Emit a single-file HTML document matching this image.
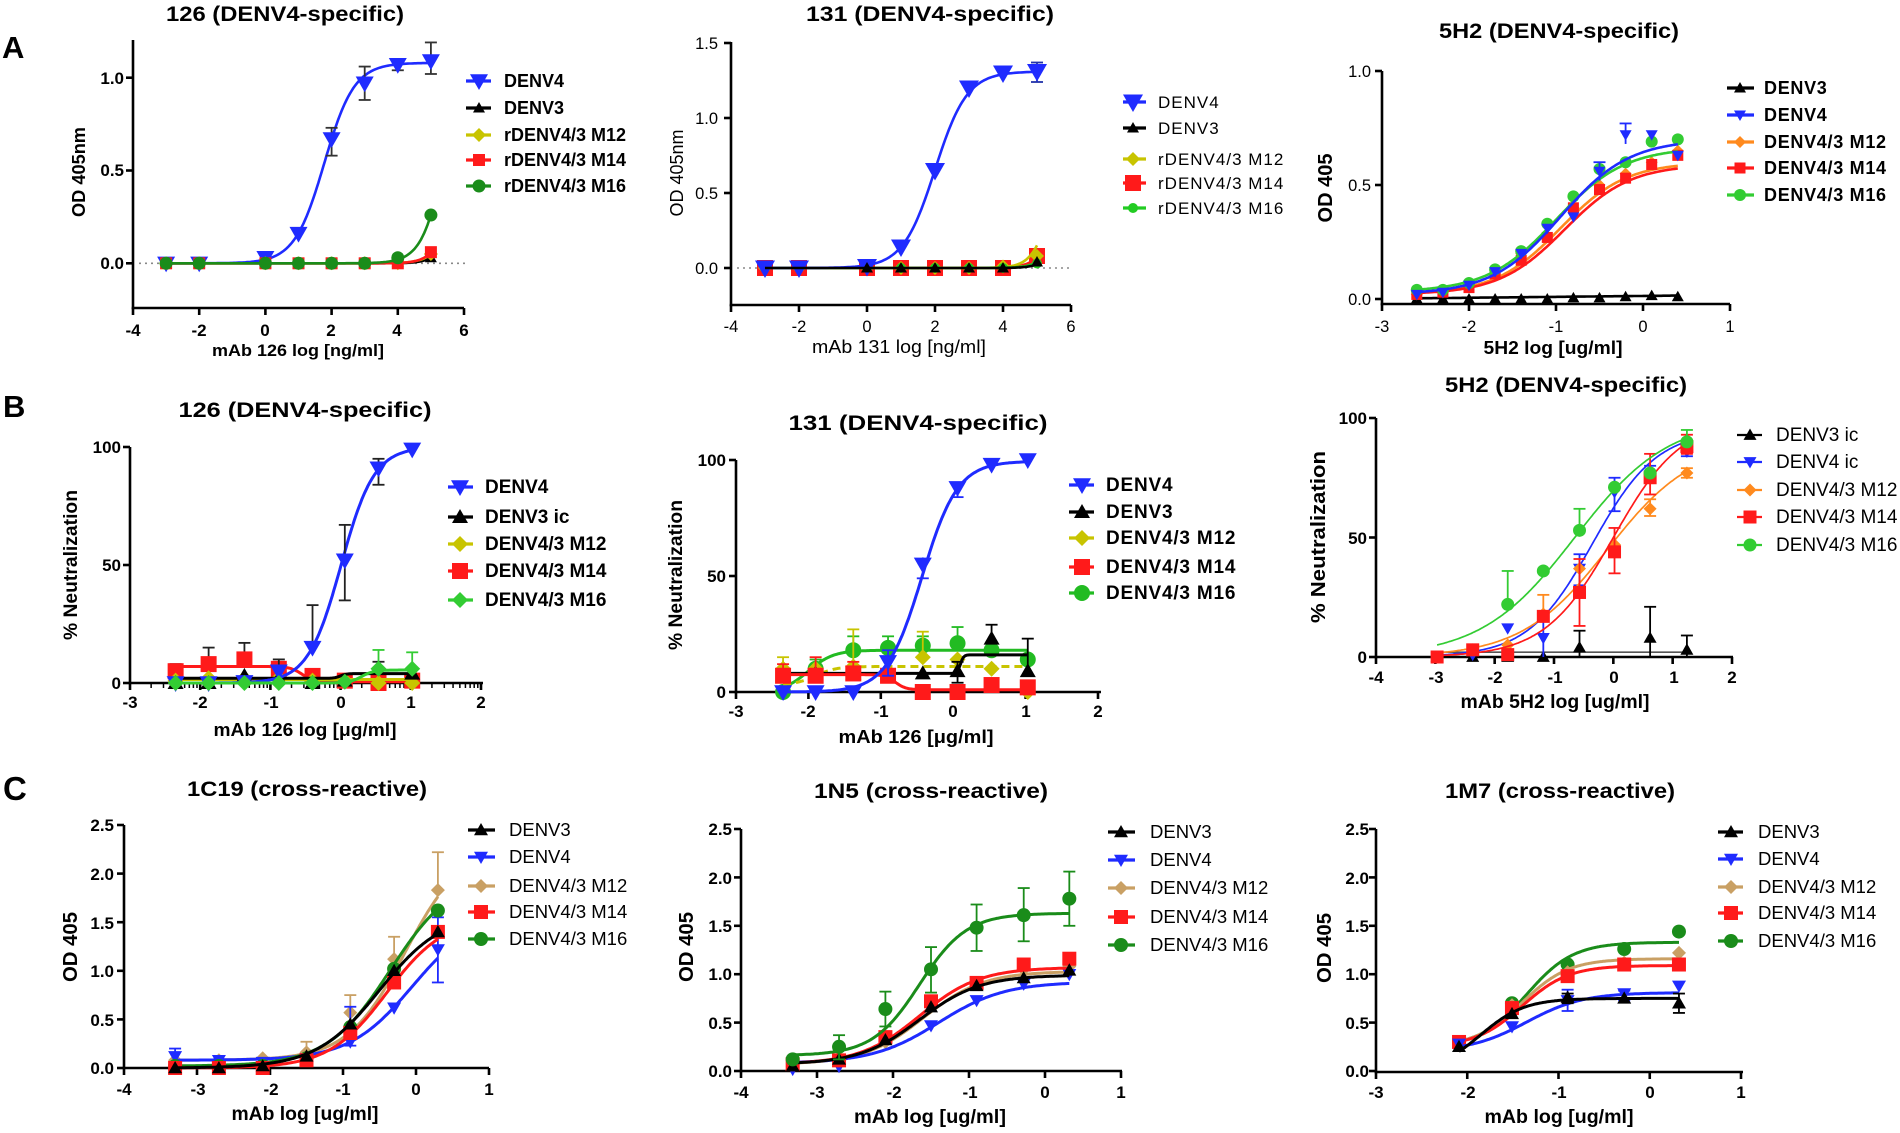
<!DOCTYPE html>
<html><head><meta charset="utf-8">
<style>
html,body{margin:0;padding:0;background:#fff;}
svg{display:block;}
text{font-family:"Liberation Sans",Arial,sans-serif;fill:#000;}
.b{font-weight:bold;}
.t{font-weight:bold;font-size:21px;text-anchor:middle;}
.tb{font-weight:bold;font-size:17px;}
.tr{font-size:16.5px;}
.m{text-anchor:middle;}
.e{text-anchor:end;}
</style></head><body>
<svg id="s" xmlns="http://www.w3.org/2000/svg" width="1900" height="1133" viewBox="0 0 1900 1133">
<rect x="0" y="0" width="1900" height="1133" fill="#fff"/>
<g id="g"></g>

<!-- panel letters -->
<text x="2" y="58" font-size="31" class="b">A</text>
<text x="3" y="417" font-size="31" class="b">B</text>
<text x="3" y="800" font-size="33" class="b">C</text>

<!-- titles -->
<text class="t" x="285" y="21" textLength="238" lengthAdjust="spacingAndGlyphs">126 (DENV4-specific)</text>
<text class="t" x="930" y="21" textLength="248" lengthAdjust="spacingAndGlyphs">131 (DENV4-specific)</text>
<text class="t" x="1559" y="38" textLength="240" lengthAdjust="spacingAndGlyphs">5H2 (DENV4-specific)</text>
<text class="t" x="305" y="417" textLength="253" lengthAdjust="spacingAndGlyphs">126 (DENV4-specific)</text>
<text class="t" x="918" y="430" textLength="259" lengthAdjust="spacingAndGlyphs">131 (DENV4-specific)</text>
<text class="t" x="1566" y="392" textLength="242" lengthAdjust="spacingAndGlyphs">5H2 (DENV4-specific)</text>
<text class="t" x="307" y="796" textLength="240" lengthAdjust="spacingAndGlyphs">1C19 (cross-reactive)</text>
<text class="t" x="931" y="798" textLength="234" lengthAdjust="spacingAndGlyphs">1N5 (cross-reactive)</text>
<text class="t" x="1560" y="798" textLength="230" lengthAdjust="spacingAndGlyphs">1M7 (cross-reactive)</text>

<!-- A1 ticks -->
<g class="tb m">
<text x="133" y="336">-4</text><text x="199" y="336">-2</text><text x="265" y="336">0</text><text x="331" y="336">2</text><text x="397" y="336">4</text><text x="464" y="336">6</text>
</g>
<g class="tb e">
<text x="124" y="84">1.0</text><text x="124" y="176">0.5</text><text x="124" y="269">0.0</text>
</g>
<text class="b m" font-size="18" transform="translate(85,172) rotate(-90)" textLength="90" lengthAdjust="spacingAndGlyphs">OD 405nm</text>
<text class="b m" font-size="17" x="298" y="356" textLength="172" lengthAdjust="spacingAndGlyphs">mAb 126 log [ng/ml]</text>
<g class="b" font-size="18">
<text x="504" y="87">DENV4</text><text x="504" y="114">DENV3</text><text x="504" y="141">rDENV4/3 M12</text><text x="504" y="166">rDENV4/3 M14</text><text x="504" y="192">rDENV4/3 M16</text>
</g>

<!-- A2 ticks -->
<g class="tr m">
<text x="731" y="332">-4</text><text x="799" y="332">-2</text><text x="867" y="332">0</text><text x="935" y="332">2</text><text x="1003" y="332">4</text><text x="1071" y="332">6</text>
</g>
<g class="tr e">
<text x="718" y="49">1.5</text><text x="718" y="124">1.0</text><text x="718" y="199">0.5</text><text x="718" y="274">0.0</text>
</g>
<text class="m" font-size="18" transform="translate(683,173) rotate(-90)" textLength="87" lengthAdjust="spacingAndGlyphs">OD 405nm</text>
<text class="m" font-size="18" x="899" y="353" textLength="174" lengthAdjust="spacingAndGlyphs">mAb 131 log [ng/ml]</text>
<g font-size="17" letter-spacing="1">
<text x="1158" y="108">DENV4</text><text x="1158" y="134">DENV3</text><text x="1158" y="165">rDENV4/3 M12</text><text x="1158" y="189">rDENV4/3 M14</text><text x="1158" y="214">rDENV4/3 M16</text>
</g>

<!-- A3 ticks -->
<g class="tr m">
<text x="1382" y="332">-3</text><text x="1469" y="332">-2</text><text x="1556" y="332">-1</text><text x="1643" y="332">0</text><text x="1730" y="332">1</text>
</g>
<g class="tr e">
<text x="1371" y="77">1.0</text><text x="1371" y="191">0.5</text><text x="1371" y="305">0.0</text>
</g>
<text class="b m" font-size="20" transform="translate(1332,188) rotate(-90)" textLength="69" lengthAdjust="spacingAndGlyphs">OD 405</text>
<text class="b m" font-size="18" x="1553" y="354" textLength="139" lengthAdjust="spacingAndGlyphs">5H2 log [ug/ml]</text>
<g class="b" font-size="18" letter-spacing="0.7">
<text x="1764" y="94">DENV3</text><text x="1764" y="121">DENV4</text><text x="1764" y="148">DENV4/3 M12</text><text x="1764" y="174">DENV4/3 M14</text><text x="1764" y="201">DENV4/3 M16</text>
</g>

<!-- B1 ticks -->
<g class="tb m">
<text x="130" y="708">-3</text><text x="200" y="708">-2</text><text x="271" y="708">-1</text><text x="341" y="708">0</text><text x="411" y="708">1</text><text x="481" y="708">2</text>
</g>
<g class="tb e">
<text x="121" y="453">100</text><text x="121" y="571">50</text><text x="121" y="689">0</text>
</g>
<text class="b m" font-size="19" transform="translate(77,565) rotate(-90)" textLength="150" lengthAdjust="spacingAndGlyphs">% Neutralization</text>
<text class="b m" font-size="18" x="305" y="736" textLength="183" lengthAdjust="spacingAndGlyphs">mAb 126 log [μg/ml]</text>
<g class="b" font-size="19">
<text x="485" y="493">DENV4</text><text x="485" y="523">DENV3 ic</text><text x="485" y="550">DENV4/3 M12</text><text x="485" y="577">DENV4/3 M14</text><text x="485" y="606">DENV4/3 M16</text>
</g>

<!-- B2 ticks -->
<g class="tb m">
<text x="736" y="717">-3</text><text x="808" y="717">-2</text><text x="881" y="717">-1</text><text x="953" y="717">0</text><text x="1026" y="717">1</text><text x="1098" y="717">2</text>
</g>
<g class="tb e">
<text x="726" y="466">100</text><text x="726" y="582">50</text><text x="726" y="698">0</text>
</g>
<text class="b m" font-size="19" transform="translate(682,575) rotate(-90)" textLength="150" lengthAdjust="spacingAndGlyphs">% Neutralization</text>
<text class="b m" font-size="18" x="916" y="743" textLength="155" lengthAdjust="spacingAndGlyphs">mAb 126 [μg/ml]</text>
<g class="b" font-size="19" letter-spacing="0.8">
<text x="1106" y="491">DENV4</text><text x="1106" y="518">DENV3</text><text x="1106" y="544">DENV4/3 M12</text><text x="1106" y="573">DENV4/3 M14</text><text x="1106" y="599">DENV4/3 M16</text>
</g>

<!-- B3 ticks -->
<g class="tb m" font-size="17.5">
<text x="1376" y="683">-4</text><text x="1436" y="683">-3</text><text x="1495" y="683">-2</text><text x="1555" y="683">-1</text><text x="1614" y="683">0</text><text x="1674" y="683">1</text><text x="1732" y="683">2</text>
</g>
<g class="tb e" font-size="17.5">
<text x="1367" y="424">100</text><text x="1367" y="544">50</text><text x="1367" y="663">0</text>
</g>
<text class="b m" font-size="20" transform="translate(1325,537) rotate(-90)" textLength="172" lengthAdjust="spacingAndGlyphs">% Neutralization</text>
<text class="b m" font-size="19" x="1555" y="708" textLength="189" lengthAdjust="spacingAndGlyphs">mAb 5H2 log [ug/ml]</text>
<g font-size="19">
<text x="1776" y="441">DENV3 ic</text><text x="1776" y="468">DENV4 ic</text><text x="1776" y="496">DENV4/3 M12</text><text x="1776" y="523">DENV4/3 M14</text><text x="1776" y="551">DENV4/3 M16</text>
</g>

<!-- C1 ticks -->
<g class="tb m">
<text x="124" y="1095">-4</text><text x="198" y="1095">-3</text><text x="271" y="1095">-2</text><text x="343" y="1095">-1</text><text x="416" y="1095">0</text><text x="489" y="1095">1</text>
</g>
<g class="tb e">
<text x="114" y="831">2.5</text><text x="114" y="880">2.0</text><text x="114" y="929">1.5</text><text x="114" y="977">1.0</text><text x="114" y="1026">0.5</text><text x="114" y="1074">0.0</text>
</g>
<text class="b m" font-size="20" transform="translate(77,947) rotate(-90)" textLength="70" lengthAdjust="spacingAndGlyphs">OD 405</text>
<text class="b m" font-size="19" x="305" y="1120" textLength="147" lengthAdjust="spacingAndGlyphs">mAb log [ug/ml]</text>
<g font-size="18.5">
<text x="509" y="836">DENV3</text><text x="509" y="863">DENV4</text><text x="509" y="892">DENV4/3 M12</text><text x="509" y="918">DENV4/3 M14</text><text x="509" y="945">DENV4/3 M16</text>
</g>

<!-- C2 ticks -->
<g class="tb m">
<text x="741" y="1098">-4</text><text x="817" y="1098">-3</text><text x="894" y="1098">-2</text><text x="970" y="1098">-1</text><text x="1045" y="1098">0</text><text x="1121" y="1098">1</text>
</g>
<g class="tb e">
<text x="732" y="835">2.5</text><text x="732" y="884">2.0</text><text x="732" y="932">1.5</text><text x="732" y="980">1.0</text><text x="732" y="1029">0.5</text><text x="732" y="1077">0.0</text>
</g>
<text class="b m" font-size="20" transform="translate(693,947) rotate(-90)" textLength="70" lengthAdjust="spacingAndGlyphs">OD 405</text>
<text class="b m" font-size="19" x="930" y="1123" textLength="152" lengthAdjust="spacingAndGlyphs">mAb log [ug/ml]</text>
<g font-size="18.5">
<text x="1150" y="838">DENV3</text><text x="1150" y="866">DENV4</text><text x="1150" y="894">DENV4/3 M12</text><text x="1150" y="923">DENV4/3 M14</text><text x="1150" y="951">DENV4/3 M16</text>
</g>

<!-- C3 ticks -->
<g class="tb m">
<text x="1376" y="1098">-3</text><text x="1468" y="1098">-2</text><text x="1559" y="1098">-1</text><text x="1650" y="1098">0</text><text x="1741" y="1098">1</text>
</g>
<g class="tb e">
<text x="1369" y="835">2.5</text><text x="1369" y="884">2.0</text><text x="1369" y="932">1.5</text><text x="1369" y="980">1.0</text><text x="1369" y="1029">0.5</text><text x="1369" y="1077">0.0</text>
</g>
<text class="b m" font-size="20" transform="translate(1331,948) rotate(-90)" textLength="70" lengthAdjust="spacingAndGlyphs">OD 405</text>
<text class="b m" font-size="19" x="1559" y="1123" textLength="149" lengthAdjust="spacingAndGlyphs">mAb log [ug/ml]</text>
<g font-size="18.5">
<text x="1758" y="838">DENV3</text><text x="1758" y="865">DENV4</text><text x="1758" y="893">DENV4/3 M12</text><text x="1758" y="919">DENV4/3 M14</text><text x="1758" y="947">DENV4/3 M16</text>
</g>
</svg>
<script>
const G=document.getElementById('g'),NS='http://www.w3.org/2000/svg';
function el(t,a){const e=document.createElementNS(NS,t);for(const k in a)e.setAttribute(k,a[k]);G.appendChild(e);return e;}
function L(b,t,c,h){return x=>b+(t-b)/(1+Math.pow(10,(c-x)*h));}
function mkr(type,x,y,s,col){
  let p=null;
  if(type==='v')p=[[x-s,y-s*0.75],[x+s,y-s*0.75],[x,y+s]];
  else if(type==='^')p=[[x-s,y+s*0.75],[x+s,y+s*0.75],[x,y-s]];
  else if(type==='d')p=[[x,y-s],[x+s,y],[x,y+s],[x-s,y]];
  if(p)return el('polygon',{points:p.map(q=>q[0].toFixed(1)+','+q[1].toFixed(1)).join(' '),fill:col});
  if(type==='s')return el('rect',{x:x-s,y:y-s,width:2*s,height:2*s,fill:col});
  return el('circle',{cx:x,cy:y,r:s,fill:col});
}
function panel(P){
  const X=v=>P.px[0]+(v-P.xv[0])*(P.px[1]-P.px[0])/(P.xv[1]-P.xv[0]);
  const Y=v=>P.py[0]+(v-P.yv[0])*(P.py[1]-P.py[0])/(P.yv[1]-P.yv[0]);
  const aw=P.aw||2.6;
  el('line',{x1:P.ax,y1:P.top,x2:P.ax,y2:P.axY+aw/2,stroke:'#000','stroke-width':aw});
  el('line',{x1:P.ax-aw/2,y1:P.axY,x2:P.right,y2:P.axY,stroke:'#000','stroke-width':aw});
  P.xt.forEach(v=>el('line',{x1:X(v),y1:P.axY,x2:X(v),y2:P.axY+7,stroke:'#000','stroke-width':aw}));
  P.yt.forEach(v=>el('line',{x1:P.ax-7,y1:Y(v),x2:P.ax,y2:Y(v),stroke:'#000','stroke-width':aw}));
  if(P.minor){for(let d=P.xt[0];d<P.xt[P.xt.length-1];d++)for(let k=2;k<10;k++){const xx=X(d+Math.log10(k));el('line',{x1:xx,y1:P.axY,x2:xx,y2:P.axY+5,stroke:'#000','stroke-width':1.5});}}
  if(P.zero)el('line',{x1:P.zero[0],y1:Y(0),x2:P.zero[1],y2:Y(0),stroke:'#888','stroke-width':1.6,'stroke-dasharray':'2,4'});
  P.series.forEach(S=>{
    if(S.f){const pts=[];const a=S.cr?S.cr[0]:P.xs[0],b=S.cr?S.cr[1]:P.xs[P.xs.length-1];
      for(let i=0;i<=160;i++){const x=a+(b-a)*i/160;pts.push(X(x).toFixed(1)+','+Y(S.f(x)).toFixed(1));}
      const at={points:pts.join(' '),fill:'none',stroke:S.lc||S.c,'stroke-width':S.lw||P.lw||2.5};
      if(S.dash)at['stroke-dasharray']=S.dash;
      el('polyline',at);}
    (S.e||[]).forEach(e=>{const x=X(e[0]);const ec=S.ec||P.ec||S.c;const w=P.ew||1.8;const cw=P.cw||6;
      el('line',{x1:x,y1:Y(e[1]),x2:x,y2:Y(e[2]),stroke:ec,'stroke-width':w});
      if(e[3]!=='l')el('line',{x1:x-cw,y1:Y(e[2]),x2:x+cw,y2:Y(e[2]),stroke:ec,'stroke-width':w});
      if(e[3]!=='h')el('line',{x1:x-cw,y1:Y(e[1]),x2:x+cw,y2:Y(e[1]),stroke:ec,'stroke-width':w});
    });
    S.p.forEach((y,i)=>{if(y==null)return;mkr(S.m,X(P.xs[i]),Y(y),S.s||P.ms||7,S.c);});
    if(S.lg){const y=S.lg;el('line',{x1:P.lg[0],y1:y,x2:P.lg[2],y2:y,stroke:S.c,'stroke-width':P.llw||3.2});mkr(S.m,P.lg[1],y,S.ls||S.s||P.ms||7,S.c);}
  });
}
const BL='#1f2bff',RD='#ff1a1a',YL='#c8c400',DG='#1a8c1a',LG='#33cc33',OR='#ff8a1e',TN='#c9a064';

/* A1 */
panel({px:[133,464],xv:[-4,6],py:[263.3,77.7],yv:[0,1],ax:133,top:40,axY:308,right:464,xt:[-4,-2,0,2,4,6],yt:[0,0.5,1],zero:[139,466],
xs:[-3,-2,0,1,2,3,4,5],lg:[466,479,491],ec:'#333',lw:2.6,
series:[
 {c:BL,m:'v',s:9,f:L(0,1.08,1.78,0.96),cr:[-3,5],p:[0,0,0.03,0.16,0.67,0.97,1.07,1.09],e:[[2,0.58,0.73],[3,0.88,1.06],[4,1.04,1.10],[5,1.02,1.19]],lg:81},
 {c:'#000',m:'^',s:6,f:L(0,1,6,1.5),cr:[-3,5],p:[0,0,0,0,0,0,0.005,0.03],lg:108},
 {c:YL,m:'d',s:7,f:L(0,1,6,1.3),cr:[-3,5],p:[0,0,0,0,0,0,0,0.05],lg:135},
 {c:RD,m:'s',s:6,f:L(0,1,5.8,1.5),cr:[-3,5],p:[0,0,0,0,0,0,0,0.06],lg:160},
 {c:DG,m:'o',s:6.5,f:L(0,1.3,5.5,1.2),cr:[-3,5],p:[0,0,0,0,0,0,0.03,0.26],lg:186}
]});

/* A2 */
panel({px:[731,1071],xv:[-4,6],py:[268,43],yv:[0,1.5],ax:731,top:42,axY:305,right:1071,xt:[-4,-2,0,2,4,6],yt:[0,0.5,1,1.5],zero:[737,1071],
xs:[-3,-2,0,1,2,3,4,5],lg:[1123,1133,1146],lw:2.6,
series:[
 {c:RD,m:'s',s:8,f:L(0,1,5.8,1.4),cr:[-3,5],p:[0,0,0,0,0,0,0,0.08],lg:183},
 {c:YL,m:'d',s:7,f:L(0,1,5.5,1.5),cr:[-3,5],p:[0,0,0,0,0,0,0.01,0.08],lg:159},
 {c:'#22cc22',m:'o',s:5,f:L(0,1,6,1.4),cr:[-3,5],p:[0,0,0,0,0,0,0,0.03],lg:208},
 {c:BL,m:'v',s:10,f:L(0,1.31,2.0,0.92),cr:[-3,5],p:[0,0,0.01,0.14,0.65,1.2,1.3,1.31],e:[[5,1.24,1.37]],ec:'#2233aa',lg:102},
 {c:'#000',m:'^',s:6,f:L(0,1,6,1.6),cr:[-3,5],p:[null,null,0,0,0,0,0,0.04],lg:128}
]});

/* A3 */
panel({px:[1382,1730],xv:[-3,1],py:[299,71],yv:[0,1],ax:1382,top:71,axY:304,right:1730,xt:[-3,-2,-1,0,1],yt:[0,0.5,1],
xs:[-2.6,-2.3,-2,-1.7,-1.4,-1.1,-0.8,-0.5,-0.2,0.1,0.4],lg:[1727,1740,1754],lw:2.6,ms:6,
series:[
 {c:'#000',m:'^',f:x=>0.003+0.012*(x+2.6)/3,cr:[-2.6,0.4],p:[0,0,0,0,0,0,0.005,0.005,0.01,0.015,0.01],lg:88},
 {c:OR,m:'d',f:L(0.02,0.60,-0.95,1.15),cr:[-2.6,0.4],p:[0.02,0.03,0.06,0.11,0.2,0.27,0.4,0.5,0.55,0.6,0.65],lg:142},
 {c:RD,m:'s',s:5.5,f:L(0.02,0.59,-0.9,1.15),cr:[-2.6,0.4],p:[0.02,0.03,0.05,0.11,0.17,0.27,0.4,0.48,0.53,0.59,0.63],lg:168},
 {c:LG,m:'o',f:L(0.03,0.665,-1.0,1.1),cr:[-2.6,0.4],p:[0.04,0.04,0.07,0.13,0.21,0.33,0.45,0.57,0.6,0.69,0.7],lg:195},
 {c:BL,m:'v',f:L(0.02,0.70,-0.95,1.1),cr:[-2.6,0.4],p:[0.02,0.03,0.06,0.12,0.2,0.31,0.36,0.56,0.72,0.72,0.63],e:[[-0.2,0.68,0.77,'h'],[-0.5,0.52,0.6,'h']],lg:115}
]});

/* B1 */
panel({px:[130,481],xv:[-3,2],py:[683,447],yv:[0,100],ax:130,top:447,axY:683,right:483,xt:[-3,-2,-1,0,1,2],yt:[0,50,100],minor:1,
xs:[-2.35,-1.88,-1.37,-0.88,-0.4,0.06,0.54,1.02],lg:[448,460,473],ec:'#222',ms:8,lw:3,
series:[
 {c:RD,m:'s',f:L(7,0.5,-0.55,5),cr:[-2.35,1.02],p:[5,8,10,6,3,1,0,1],e:[[-2.35,5,8,'h'],[-1.88,8,15,'h'],[-1.37,10,17,'h']],lg:571},
 {c:YL,m:'d',f:x=>1.5,cr:[-2.35,1.02],p:[1,2,2,2,1,1,0,0],lg:544},
 {c:'#000',m:'^',f:L(2,4,0,10),cr:[-2.35,1.02],p:[0,0,3,2,0,1,null,4],e:[[-0.88,2,10,'h'],[0.54,4,9,'h']],lg:517},
 {c:BL,m:'v',s:9,f:L(0,100,0.007,1.84),cr:[-2.35,1.02],p:[0,0,0.5,5,15,52,91,99],e:[[-0.4,15,33,'h'],[0.06,35,67],[0.54,84,95]],lg:487},
 {c:LG,m:'d',f:L(0,5.5,0.3,5),cr:[-2.35,1.02],p:[0,0,0,0,0,0.5,6,6],e:[[0.54,6,14,'h'],[1.02,6,13,'h']],ec:LG,lg:600}
]});

/* B2 */
panel({px:[736,1098],xv:[-3,2],py:[692,460],yv:[0,100],ax:736,top:460,axY:692,right:1101,xt:[-3,-2,-1,0,1,2],yt:[0,50,100],
xs:[-2.35,-1.9,-1.38,-0.9,-0.42,0.06,0.53,1.03],lg:[1069,1082,1094],ms:8,lw:3,
series:[
 {c:'#22bb22',m:'o',f:L(0,18,-2.0,2.5),cr:[-2.35,1.03],p:[0,10,18,19,20,21,18,14],e:[[-1.9,10,14,'h'],[-1.38,18,24,'h'],[-0.9,19,24,'h'],[-0.42,20,24,'h'],[0.06,21,28,'h']],lg:593},
 {c:YL,m:'d',f:L(3,11,-1.9,3),dash:'8,5',cr:[-2.35,1.03],p:[10,10,11,null,15,14,10,0],e:[[-2.35,10,15,'h'],[-1.38,11,27,'h'],[-0.42,15,26,'h']],lg:538},
 {c:'#000',m:'^',f:L(8,16,0.1,20),cr:[-2.35,1.03],p:[null,8,8,8,8,9,23,9],e:[[0.53,23,29,'h'],[1.03,9,23,'h'],[0.06,4,13]],lg:512},
 {c:RD,m:'s',f:L(7.5,1,-0.8,6),cr:[-2.35,1.03],p:[7,7,8,7,0,0,3,2],e:[[-2.35,7,12,'h'],[-1.9,7,15,'h'],[-1.38,8,13,'h']],lg:567},
 {c:BL,m:'v',s:9,f:L(0,99.5,-0.43,1.77),cr:[-2.35,1.03],p:[0,0,0,13,55,88,98,100],e:[[-0.9,7,18],[-0.42,49,58,'l'],[0.06,84,90,'l']],lg:485}
]});

/* B3 */
panel({px:[1376,1732],xv:[-4,2],py:[657,418],yv:[0,100],ax:1376,top:418,axY:657,right:1733,xt:[-4,-3,-2,-1,0,1,2],yt:[0,50,100],
xs:[-2.97,-2.37,-1.78,-1.18,-0.57,0.02,0.62,1.24],lg:[1737,1750,1762],ms:6.5,lw:1.7,llw:2.2,
series:[
 {c:'#000',lc:'#555',m:'^',f:x=>2,cr:[-2.97,1.24],p:[0,0,0,0,4,null,8,3],e:[[-0.57,0,11,'h'],[0.62,0,21,'h'],[1.24,0,9,'h']],lg:435},
 {c:BL,m:'v',f:L(0,95,-0.35,0.8),cr:[-2.97,1.24],p:[0,1,12,8,37,69,76,86],e:[[-1.18,0,16,'h'],[-0.57,30,43],[0.02,61,75],[0.62,73,80],[1.24,84,89]],lg:462},
 {c:OR,m:'d',f:L(0,90,-0.1,0.6),cr:[-2.97,1.24],p:[0,3,5,18,37,47,62,77],e:[[-1.18,18,26,'h'],[0.62,59,66],[1.24,75,79]],lg:490},
 {c:RD,m:'s',f:L(0,100,0,0.75),cr:[-2.97,1.24],p:[0,3,1,17,27,44,75,88],e:[[-0.57,13,41],[0.02,35,54],[0.62,68,85],[1.24,85,93]],lg:517},
 {c:LG,m:'o',f:L(0,100,-0.65,0.55),cr:[-2.97,1.24],p:[null,null,22,36,53,71,77,90],e:[[-1.78,22,36,'h'],[-0.57,53,62,'h'],[1.24,90,95,'h']],lg:545}
]});

/* C1 */
panel({px:[124,489],xv:[-4,1],py:[1068,825],yv:[0,2.5],ax:124,top:825,axY:1068,right:489,xt:[-4,-3,-2,-1,0,1],yt:[0,0.5,1,1.5,2,2.5],
xs:[-3.3,-2.7,-2.1,-1.5,-0.9,-0.3,0.3],lg:[468,481,495],ms:7,lw:3,
series:[
 {c:TN,m:'d',f:L(0.08,2.3,-0.15,1.1),cr:[-3.3,0.3],p:[0.08,0.08,0.1,0.16,0.57,1.12,1.83],e:[[-0.9,0.57,0.75,'h'],[-0.3,1.12,1.35,'h'],[0.3,1.83,2.22,'h'],[-1.5,0.16,0.27,'h']],lg:886},
 {c:BL,m:'v',f:L(0.08,1.6,-0.05,1.0),cr:[-3.3,0.3],p:[0.12,0.08,0.06,0.1,0.27,0.62,1.22],e:[[-3.3,0.05,0.2],[-0.9,0.23,0.63],[0.3,0.88,1.55]],lg:857},
 {c:DG,m:'o',f:L(0.02,2.0,-0.35,1.0),cr:[-3.3,0.3],p:[0.02,0.02,0.02,0.1,0.42,1.02,1.62],lg:939},
 {c:RD,m:'s',f:L(0,1.55,-0.4,1.1),cr:[-3.3,0.3],p:[0,0,0,0.08,0.36,0.88,1.4],lg:912},
 {c:'#000',m:'^',f:L(0,1.6,-0.5,1.0),cr:[-3.3,0.3],p:[0,0,0.02,0.12,0.45,1.0,1.4],lg:830}
]});

/* C2 */
panel({px:[741,1121],xv:[-4,1],py:[1071,829],yv:[0,2.5],ax:741,top:829,axY:1071,right:1122,xt:[-4,-3,-2,-1,0,1],yt:[0,0.5,1,1.5,2,2.5],
xs:[-3.32,-2.71,-2.1,-1.5,-0.9,-0.28,0.32],lg:[1108,1121,1135],ms:7,lw:3,
series:[
 {c:TN,m:'d',f:L(0.07,1.03,-1.6,1.1),cr:[-3.32,0.32],p:[0.05,0.1,0.3,0.7,0.9,1.05,1.08],lg:888},
 {c:BL,m:'v',f:L(0.08,0.92,-1.4,1.0),cr:[-3.32,0.32],p:[0.02,0.05,null,0.47,0.73,0.9,1.0],lg:860},
 {c:RD,m:'s',f:L(0.07,1.07,-1.65,1.1),cr:[-3.32,0.32],p:[0.07,0.11,0.35,0.72,0.91,1.1,1.16],lg:917},
 {c:'#000',m:'^',f:L(0.07,0.99,-1.65,1.1),cr:[-3.32,0.32],p:[0.05,0.12,0.32,0.66,0.88,0.96,1.04],lg:832},
 {c:DG,m:'o',f:L(0.16,1.63,-1.65,1.4),cr:[-3.32,0.32],p:[0.12,0.25,0.64,1.05,1.48,1.61,1.78],e:[[-2.71,0.12,0.37],[-2.1,0.46,0.82],[-1.5,0.81,1.28],[-0.9,1.24,1.72],[-0.28,1.34,1.89],[0.32,1.5,2.06]],lg:945}
]});

/* C3 */
panel({px:[1376,1741],xv:[-3,1],py:[1071,829],yv:[0,2.5],ax:1376,top:829,axY:1072,right:1743,xt:[-3,-2,-1,0,1],yt:[0,0.5,1,1.5,2,2.5],
xs:[-2.09,-1.51,-0.9,-0.28,0.32],lg:[1718,1731,1743],ms:7,lw:3,
series:[
 {c:DG,m:'o',f:L(0.25,1.33,-1.35,1.7),cr:[-2.09,0.32],p:[0.3,0.7,1.1,1.26,1.44],lg:941},
 {c:TN,m:'d',f:L(0.25,1.16,-1.4,1.7),cr:[-2.09,0.32],p:[0.3,0.68,1.02,1.12,1.22],lg:887},
 {c:RD,m:'s',f:L(0.25,1.09,-1.4,1.7),cr:[-2.09,0.32],p:[0.3,0.65,0.98,1.1,1.1],lg:913},
 {c:BL,m:'v',f:L(0.2,0.81,-1.35,1.4),cr:[-2.09,0.32],p:[0.28,0.46,0.73,0.8,0.88],e:[[-0.9,0.62,0.84],[-0.28,0.73,0.83]],lg:859},
 {c:'#000',m:'^',f:L(0,0.75,-1.85,1.8),cr:[-2.09,0.32],p:[0.25,0.59,0.76,0.75,0.7],e:[[0.32,0.6,0.8],[-0.9,0.7,0.8]],lg:832}
]});
</script>
</body></html>
